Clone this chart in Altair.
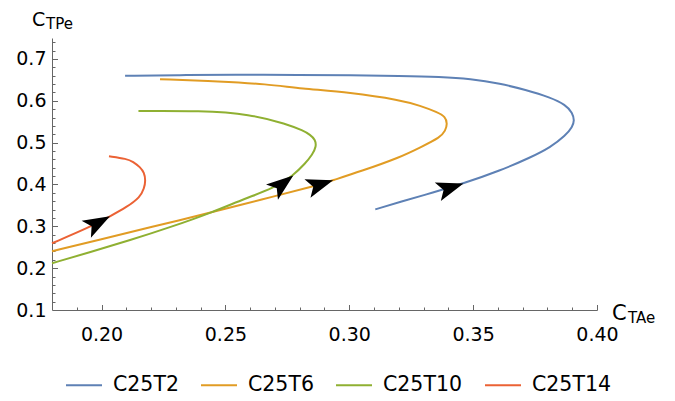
import math
import altair as alt
import pandas as pd

# ---------------- data ----------------
series_names = ["C25T2", "C25T6", "C25T10", "C25T14"]
series_colors = ["#5E81B5", "#E19C24", "#8FB032", "#EB6235"]

t2_x = [0.3105, 0.3206, 0.3339, 0.3461, 0.3610, 0.3731, 0.3812, 0.3873, 0.3901,
        0.3909, 0.3901, 0.3873, 0.3812, 0.3711, 0.3610, 0.3489, 0.3368, 0.3206,
        0.3004, 0.2802, 0.2531, 0.2317, 0.2095]
t2_y = [0.3405, 0.3583, 0.3810, 0.4024, 0.4333, 0.4643, 0.4888, 0.5167, 0.5381,
        0.5524, 0.5714, 0.5905, 0.6079, 0.6262, 0.6412, 0.6524, 0.6571, 0.6595,
        0.6612, 0.6619, 0.6624, 0.6612, 0.6595]

t6_x = [0.1800, 0.1994, 0.2196, 0.2450, 0.2640, 0.2870, 0.2935, 0.3044, 0.3206,
        0.3287, 0.3368, 0.3388, 0.3396, 0.3388, 0.3356, 0.3287, 0.3206, 0.3004,
        0.2802, 0.2667, 0.2479, 0.2236]
t6_y = [0.2405, 0.2679, 0.2976, 0.3340, 0.3631, 0.3976, 0.4102, 0.4310, 0.4650,
        0.4888, 0.5126, 0.5286, 0.5452, 0.5619, 0.5726, 0.5881, 0.6017, 0.6198,
        0.6295, 0.6398, 0.6464, 0.6517]

t10_x = [0.1800, 0.1954, 0.2115, 0.2277, 0.2450, 0.2580, 0.2693, 0.2774, 0.2822,
         0.2851, 0.2867, 0.2863, 0.2842, 0.2814, 0.2748, 0.2600, 0.2398, 0.2149]
t10_y = [0.2119, 0.2381, 0.2667, 0.2976, 0.3340, 0.3667, 0.3905, 0.4214, 0.4500,
         0.4714, 0.4905, 0.5071, 0.5190, 0.5286, 0.5445, 0.5683, 0.5762, 0.5755]

t14_x = [0.1800, 0.1954, 0.2034, 0.2102, 0.2156, 0.2172, 0.2178, 0.2172, 0.2156,
         0.2127, 0.2102, 0.2030]
t14_y = [0.2595, 0.2983, 0.3238, 0.3460, 0.3698, 0.3905, 0.4095, 0.4286, 0.4412,
         0.4548, 0.4612, 0.4674]

# arrowhead tips (points on the curves)
arrow_series = ["C25T2", "C25T6", "C25T10", "C25T14"]
arrow_x = [0.3461, 0.2935, 0.2774, 0.2034]
arrow_y = [0.4024, 0.4102, 0.4214, 0.3238]

x_domain = [0.18, 0.40]
y_domain = [0.10, 0.75]
x_labels = [0.20, 0.25, 0.30, 0.35, 0.40]
y_labels = [0.1, 0.2, 0.3, 0.4, 0.5, 0.6, 0.7]
x_ticks = [0.19, 0.20, 0.21, 0.22, 0.23, 0.24, 0.25, 0.26, 0.27, 0.28, 0.29, 0.30,
           0.31, 0.32, 0.33, 0.34, 0.35, 0.36, 0.37, 0.38, 0.39, 0.40]
y_ticks = [0.12, 0.14, 0.16, 0.18, 0.20, 0.22, 0.24, 0.26, 0.28, 0.30, 0.32, 0.34,
           0.36, 0.38, 0.40, 0.42, 0.44, 0.46, 0.48, 0.50, 0.52, 0.54, 0.56, 0.58,
           0.60, 0.62, 0.64, 0.66, 0.68, 0.70, 0.72, 0.74]

# ---------------- build tables ----------------
W, H = 545, 272
curves = {"C25T2": (t2_x, t2_y), "C25T6": (t6_x, t6_y),
          "C25T10": (t10_x, t10_y), "C25T14": (t14_x, t14_y)}
rows = []
for name, (xs_, ys_) in curves.items():
    for i, (a, b) in enumerate(zip(xs_, ys_)):
        rows.append({"series": name, "idx": i, "x": a, "y": b})
df = pd.DataFrame(rows)

kx = W / (x_domain[1] - x_domain[0])
ky = H / (y_domain[1] - y_domain[0])
arows = []
for name, ax_, ay_ in zip(arrow_series, arrow_x, arrow_y):
    xs_, ys_ = curves[name]
    d = [((xx - ax_) * kx) ** 2 + ((yy - ay_) * ky) ** 2 for xx, yy in zip(xs_, ys_)]
    i = d.index(min(d))
    i0, i1 = max(i - 1, 0), min(i + 1, len(xs_) - 1)
    dx = (xs_[i1] - xs_[i0]) * kx
    dy = -(ys_[i1] - ys_[i0]) * ky
    ang = math.degrees(math.atan2(dy, dx)) % 360
    arows.append({"x": ax_, "y": ay_, "angle": ang})
adf = pd.DataFrame(arows)

FONT = "DejaVu Sans"
AXC = "#666666"
xs = alt.Scale(domain=x_domain, nice=False, zero=False)
ys = alt.Scale(domain=y_domain, nice=False, zero=False)

x_major_test = "abs(datum.value*20 - round(datum.value*20)) < 0.001"
y_major_test = "abs(datum.value*10 - round(datum.value*10)) < 0.001"

lines = alt.Chart(df).mark_line(strokeWidth=2, interpolate="basis").encode(
    x=alt.X("x:Q", scale=xs, axis=alt.Axis(
        orient="bottom", values=x_labels, format=".2f", ticks=False, grid=False,
        domainColor=AXC, domainWidth=1, labelFont=FONT, labelFontSize=19,
        labelColor="black", labelPadding=15, title=None, labelFlush=False,
        labelOverlap=False)),
    y=alt.Y("y:Q", scale=ys, axis=alt.Axis(
        orient="left", values=y_labels, format=".1f", ticks=False, grid=False,
        domainColor=AXC, domainWidth=1, labelFont=FONT, labelFontSize=19,
        labelColor="black", labelPadding=6, title=None, labelFlush=False,
        labelOverlap=False)),
    color=alt.Color("series:N", scale=alt.Scale(domain=series_names, range=series_colors),
                    legend=alt.Legend(orient="none", direction="horizontal",
                                      legendX=13, legendY=328, title=None,
                                      symbolType="stroke", symbolSize=1296,
                                      symbolStrokeWidth=2, labelFont=FONT,
                                      labelFontSize=20.5, labelColor="black",
                                      labelOffset=10, columnPadding=18, padding=0)),
    order="idx:Q",
)

ARROW = "M0,0 L-2,-0.72 L-1.55,0 L-2,0.72 Z"
arrows = alt.Chart(adf).mark_point(shape=ARROW, filled=True, color="black",
                                   opacity=1, size=729, strokeWidth=0).encode(
    x=alt.X("x:Q", scale=xs, axis=alt.Axis(
        orient="top", offset=-H, values=x_ticks, labels=False, domain=False,
        grid=False, tickColor=AXC, tickWidth=1,
        tickSize=alt.condition(x_major_test, alt.value(5.5), alt.value(3)),
        title=None)),
    y=alt.Y("y:Q", scale=ys, axis=alt.Axis(
        orient="right", offset=-W, values=y_ticks, labels=False, domain=False,
        grid=False, tickColor=AXC, tickWidth=1,
        tickSize=alt.condition(y_major_test, alt.value(5.5), alt.value(3)),
        title=None)),
    angle=alt.Angle("angle:Q", scale=None),
)

def label(txt, px, py, size):
    return alt.Chart(pd.DataFrame({"t": [txt]})).mark_text(
        align="left", baseline="alphabetic", font=FONT, fontSize=size, color="black"
    ).encode(text="t:N", x=alt.value(px), y=alt.value(py))

titles = (label("C", -20, -12, 19) + label("TPe", -6, -9, 15)
          + label("C", 560, 282, 21) + label("TAe", 576, 285, 15))

chart = alt.layer(lines, arrows, titles).resolve_axis(
    x="independent", y="independent"
).properties(
    width=W, height=H,
    padding={"left": 44, "top": 30, "right": 70, "bottom": 85},
    autosize=alt.AutoSizeParams(type="none"),
).configure_view(stroke=None)

chart.save("out.html", embed_options={"renderer": "svg", "actions": False})
